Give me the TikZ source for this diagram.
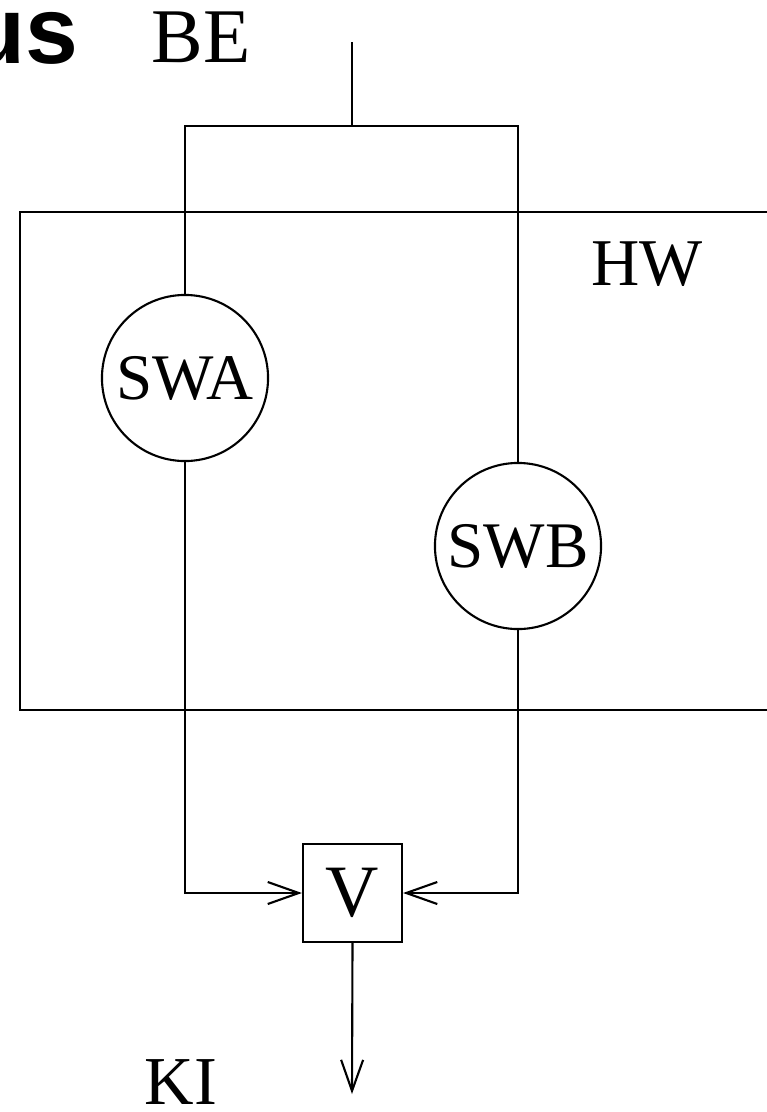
\documentclass[tikz,border=0pt]{standalone}
\usepackage{fontspec}
\setmainfont{Liberation Serif}
\setsansfont{Liberation Sans}
\usetikzlibrary{arrows.meta}

\tikzset{
  lbl/.style={inner sep=0pt, anchor=base, font=\fontsize{20}{24}\selectfont},
  swnode/.style={draw, circle, inner sep=0pt, minimum size=1.66cm,
    font=\fontsize{18.5}{22}\selectfont},
  vbox/.style={draw, rectangle, inner sep=0pt, minimum width=0.99cm,
    minimum height=0.98cm, font=\fontsize{21}{25}\selectfont},
}

\begin{document}
\begin{tikzpicture}[x=0.01cm, y=-0.01cm, line width=0.6pt,
    >={Straight Barb[length=3.1mm,width=2.2mm]}]

        \useasboundingbox (0,0) rectangle (767,1112);

        \node[lbl, anchor=base east, font=\fontsize{27}{31}\selectfont\sffamily\bfseries] (us) at (79,64) {us};
        \node[lbl, font=\fontsize{22}{26}\selectfont] (BE) at (201,62) {BE};
        \node[lbl, font=\fontsize{19}{23}\selectfont] (HW) at (647,285) {HW};
        \node[lbl, font=\fontsize{19.5}{23}\selectfont] (KI) at (181,1104) {KI};

        % hardware frame, runs past the right edge
        \draw (20,212) rectangle (820,710);

        \coordinate (in)    at (352,42);
        \coordinate (split) at (352,126);
        \coordinate (out)   at (352,1094);

        \node[swnode] (SWA) at (185,378) {SWA};
        \node[swnode] (SWB) at (518,546) {SWB};
        \node[vbox]   (V)   at (352.5,893) {V};

        \draw (in) -- (split);
        \draw (SWA.north) |- (split) -| (SWB.north);

        \draw[->] (SWA.south) |- (V.west);
        \draw[->] (SWB.south) |- (V.east);

        \draw[->] (V.south) -- (out);

        \end{tikzpicture}
\end{document}
